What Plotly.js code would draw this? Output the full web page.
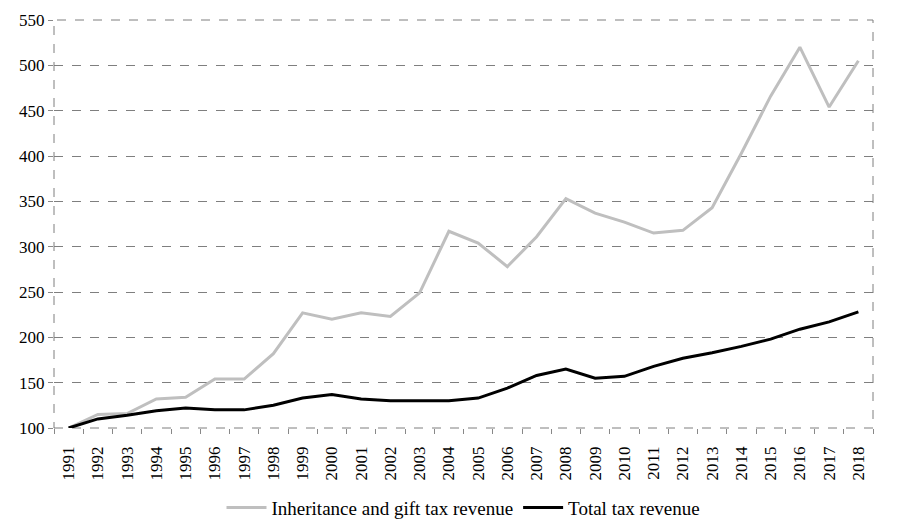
<!DOCTYPE html>
<html>
<head>
<meta charset="utf-8">
<script src="https://cdn.plot.ly/plotly-3.0.1.min.js"></script>
<style>
  body { margin: 0; background: #fff; }
  #chart { width: 900px; height: 530px; }
</style>
</head>
<body>
<div id="chart"></div>
<script>
// years on the category axis
var years = ["1991", "1992", "1993", "1994", "1995", "1996", "1997", "1998", "1999", "2000",
             "2001", "2002", "2003", "2004", "2005", "2006", "2007", "2008", "2009", "2010",
             "2011", "2012", "2013", "2014", "2015", "2016", "2017", "2018"];

// index, 1991 = 100
var inheritanceGift = [100, 115, 116, 132, 134, 154, 154, 182, 227, 220,
                       227, 223, 249, 317, 304, 278, 311, 353, 337, 327,
                       315, 318, 343, 403, 466, 520, 454, 505];
var totalTax = [100, 110, 114, 119, 122, 120, 120, 125, 133, 137,
                132, 130, 130, 130, 133, 144, 158, 165, 155, 157,
                168, 177, 183, 190, 198, 209, 217, 228];

var yTicks = [100, 150, 200, 250, 300, 350, 400, 450, 500, 550];

var serif = 'Liberation Serif, serif';

var traces = [
  {
    x: years,
    y: inheritanceGift,
    type: 'scatter',
    mode: 'lines',
    name: 'Inheritance and gift tax revenue',
    line: {color: '#bfbfbf', width: 3}
  },
  {
    x: years,
    y: totalTax,
    type: 'scatter',
    mode: 'lines',
    name: 'Total tax revenue',
    line: {color: '#000000', width: 3}
  }
];

var layout = {
  width: 900,
  height: 530,
  margin: {l: 54, r: 27, t: 20, b: 102, autoexpand: false},
  paper_bgcolor: '#fff',
  plot_bgcolor: '#fff',
  font: {family: serif, size: 17, color: '#000'},
  showlegend: true,
  legend: {
    orientation: 'h',
    x: 0.5, xanchor: 'center',
    y: -0.195, yanchor: 'middle',
    font: {family: serif, size: 19},
    itemwidth: 40,
    traceorder: 'normal'
  },
  xaxis: {
    type: 'category',
    range: [-0.5, 27.5],
    tickangle: -90,
    tickson: 'boundaries',
    ticks: 'outside',
    ticklen: 5,
    tickcolor: '#888',
    ticklabelstandoff: 14,
    showgrid: false,
    showline: false,
    zeroline: false,
    automargin: false,
    tickfont: {family: serif, size: 17}
  },
  yaxis: {
    range: [100, 550],
    tickvals: yTicks,
    ticks: 'outside',
    ticklen: 5,
    tickcolor: '#888',
    showgrid: true,
    gridcolor: '#7f7f7f',
    griddash: 'dash',
    gridwidth: 1,
    showline: false,
    zeroline: false,
    automargin: false,
    tickfont: {family: serif, size: 17}
  },
  shapes: [
    {type: 'rect', xref: 'paper', yref: 'paper', x0: 0, x1: 1, y0: 0, y1: 1,
     line: {color: '#7f7f7f', width: 1, dash: 'dash'}, layer: 'below'}
  ]
};

Plotly.newPlot('chart', traces, layout, {displayModeBar: false, staticPlot: true});
</script>
</body>
</html>
